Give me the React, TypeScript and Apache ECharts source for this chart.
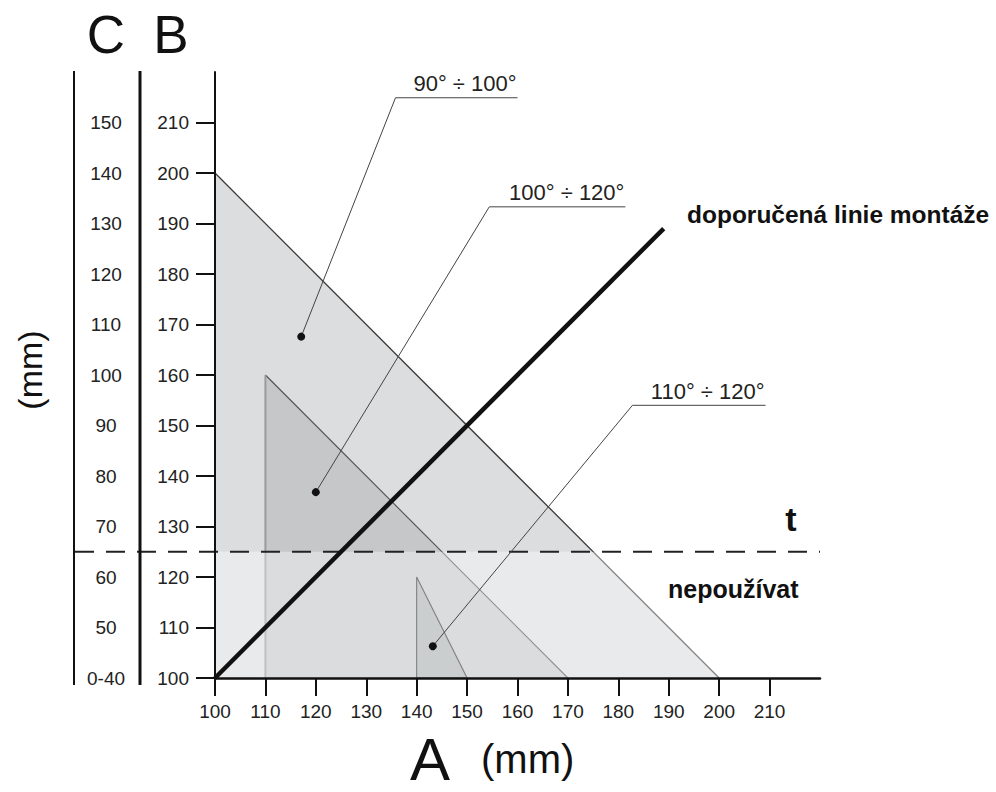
import React, { useEffect, useRef } from "react";
import * as echarts from "echarts";

// ---- data (chart units, mm) ----
const axisTicks = [100, 110, 120, 130, 140, 150, 160, 170, 180, 190, 200, 210];
const cTickLabels = ["0-40", "50", "60", "70", "80", "90", "100", "110", "120", "130", "140", "150"];
const bigTriangle = [[100, 100], [100, 200], [200, 100]];
const midTriangle = [[110, 100], [110, 160], [170, 100]];
const smallTriangle = [[140, 100], [140, 120], [150, 100]];
const mountingLine = [[100, 100], [189, 189]];
const tLevel = 125;
const angleLabels = ["90° ÷ 100°", "100° ÷ 120°", "110° ÷ 120°"];
const pointX = [117.1, 120.0, 143.2];
const pointY = [167.6, 136.8, 106.3];
const elbowX = [135.8, 154.4, 182.8];
const elbowY = [214.9, 193.3, 154.0];
const leaderEndX = [160.0, 181.4, 209.2];

const FONT = "'Liberation Sans', Arial, Helvetica, sans-serif";

const txt = (x: number, y: number, text: string, fontSize: number, opts: any = {}) => ({
  type: "text",
  x,
  y,
  z: 100,
  rotation: opts.rotation ?? 0,
  style: {
    text,
    fontSize,
    fontWeight: opts.bold ? "bold" : "normal",
    fontFamily: FONT,
    fill: "#111",
    lineHeight: opts.lineHeight ?? Math.round(fontSize * 0.8),
    textAlign: opts.align ?? "left",
    align: opts.align ?? "left",
    textVerticalAlign: "middle",
    verticalAlign: "middle",
  },
});

export default function App() {
  const ref = useRef<HTMLDivElement>(null);
  useEffect(() => {
    if (!ref.current) return;
    const chart = echarts.init(ref.current, null, { renderer: "svg" });
    const one = [[100, 100]];
    const option: any = {
      animation: false,
      backgroundColor: "#ffffff",
      grid: { left: 215, right: 176, top: 72, bottom: 114, containLabel: false },
      xAxis: {
        type: "value",
        min: 100,
        max: 220,
        interval: 10,
        z: 10,
        axisLine: { show: true, lineStyle: { color: "#111", width: 2.5 } },
        axisTick: { show: true, length: 18, lineStyle: { color: "#111", width: 2 }, customValues: axisTicks },
        axisLabel: { customValues: axisTicks, margin: 24, fontSize: 19, color: "#222", fontFamily: FONT },
        splitLine: { show: false },
      },
      yAxis: [
        {
          type: "value",
          min: 100,
          max: 220,
          interval: 10,
          z: 10,
          axisLine: { show: true, lineStyle: { color: "#111", width: 2 } },
          axisTick: { show: true, length: 19, lineStyle: { color: "#111", width: 2 }, customValues: axisTicks },
          axisLabel: { customValues: axisTicks, margin: 26, fontSize: 19, color: "#222", fontFamily: FONT },
          splitLine: { show: false },
        },
        {
          type: "value",
          position: "left",
          offset: 75,
          min: 100,
          max: 220,
          interval: 10,
          axisLine: { show: false },
          axisTick: { show: false },
          axisLabel: {
            customValues: axisTicks,
            margin: 34,
            align: "center",
            fontSize: 19,
            color: "#222",
            fontFamily: FONT,
            formatter: (v: number) => cTickLabels[axisTicks.indexOf(Math.round(v))] ?? "",
          },
          splitLine: { show: false },
        },
      ],
      series: [
        {
          type: "custom",
          name: "zones",
          coordinateSystem: "cartesian2d",
          data: one,
          renderItem: (_p: any, api: any) => ({
            type: "group",
            children: [
              { type: "polygon", shape: { points: bigTriangle.map((p) => api.coord(p)) }, style: { fill: "#dcdddf" } },
              { type: "polygon", shape: { points: midTriangle.map((p) => api.coord(p)) }, style: { fill: "#c6c7c9" } },
              {
                type: "line",
                shape: { x1: api.coord(bigTriangle[1])[0], y1: api.coord(bigTriangle[1])[1], x2: api.coord(bigTriangle[2])[0], y2: api.coord(bigTriangle[2])[1] },
                style: { stroke: "#3a3a3a", lineWidth: 1.3 },
              },
              {
                type: "line",
                shape: { x1: api.coord(midTriangle[1])[0], y1: api.coord(midTriangle[1])[1], x2: api.coord(midTriangle[2])[0], y2: api.coord(midTriangle[2])[1] },
                style: { stroke: "#505050", lineWidth: 1.1 },
              },
              {
                type: "line",
                shape: { x1: api.coord(midTriangle[0])[0], y1: api.coord(midTriangle[0])[1], x2: api.coord(midTriangle[1])[0], y2: api.coord(midTriangle[1])[1] },
                style: { stroke: "#9a9a9a", lineWidth: 2 },
              },
            ],
          }),
        },
        {
          type: "custom",
          name: "overlay",
          coordinateSystem: "cartesian2d",
          data: one,
          renderItem: (_p: any, api: any) => {
            const a = api.coord([100, tLevel]);
            const b = api.coord([220, 100]);
            return {
              type: "rect",
              shape: { x: a[0], y: a[1], width: b[0] - a[0], height: b[1] - a[1] },
              style: { fill: "rgba(255,255,255,0.38)" },
            };
          },
        },
        {
          type: "custom",
          name: "small",
          coordinateSystem: "cartesian2d",
          data: one,
          renderItem: (_p: any, api: any) => ({
            type: "polygon",
            shape: { points: smallTriangle.map((p) => api.coord(p)) },
            style: { fill: "#cacecf", stroke: "#808080", lineWidth: 1.1 },
          }),
        },
        {
          type: "custom",
          name: "tline",
          coordinateSystem: "cartesian2d",
          data: one,
          clip: false,
          renderItem: (_p: any, api: any) => {
            const r = api.coord([220, tLevel]);
            return {
              type: "line",
              shape: { x1: 75, y1: r[1], x2: r[0], y2: r[1] },
              style: { stroke: "#222", lineWidth: 2, lineDash: [19, 12] },
            };
          },
        },
        {
          type: "line",
          name: "mount",
          data: mountingLine,
          symbol: "none",
          lineStyle: { color: "#111", width: 4.5 },
          z: 5,
        },
        {
          type: "custom",
          name: "leaders",
          coordinateSystem: "cartesian2d",
          data: angleLabels.map((_, i) => [pointX[i], pointY[i]]),
          clip: false,
          z: 6,
          renderItem: (p: any, api: any) => {
            const i = p.dataIndex;
            const d = api.coord([pointX[i], pointY[i]]);
            const e = api.coord([elbowX[i], elbowY[i]]);
            const f = api.coord([leaderEndX[i], elbowY[i]]);
            return {
              type: "group",
              children: [
                { type: "polyline", shape: { points: [d, e, f] }, style: { stroke: "#444", lineWidth: 1, fill: "none" } },
                { type: "circle", shape: { cx: d[0], cy: d[1], r: 4 }, style: { fill: "#111" } },
                {
                  type: "text",
                  x: f[0] - 1,
                  y: f[1] - 3,
                  style: {
                    text: angleLabels[i],
                    fontSize: 22,
                    fontFamily: FONT,
                    fill: "#222",
                    align: "right",
                    verticalAlign: "bottom",
                    textAlign: "right",
                    textVerticalAlign: "bottom",
                  },
                },
              ],
            };
          },
        },
      ],
      graphic: [
        { type: "line", z: 100, shape: { x1: 74, y1: 71, x2: 74, y2: 685 }, style: { stroke: "#111", lineWidth: 2 } },
        { type: "line", z: 100, shape: { x1: 140, y1: 71, x2: 140, y2: 685 }, style: { stroke: "#111", lineWidth: 3 } },
        txt(106, 34.5, "C", 53, { align: "center" }),
        txt(171, 34.5, "B", 53, { align: "center" }),
        txt(410, 759, "A", 60),
        txt(481, 759, "(mm)", 40),
        txt(30, 370, "(mm)", 34, { align: "center", rotation: Math.PI / 2 }),
        txt(687, 214, "doporučená linie montáže", 24.5, { bold: true, lineHeight: 26 }),
        txt(791, 519, "t", 34, { bold: true, align: "center" }),
        txt(668, 589, "nepoužívat", 25, { bold: true, lineHeight: 26 }),
      ],
    };
    chart.setOption(option);
    return () => chart.dispose();
  }, []);
  return <div ref={ref} style={{ position: "absolute", left: 0, top: 0, width: 996, height: 792 }} />;
}
